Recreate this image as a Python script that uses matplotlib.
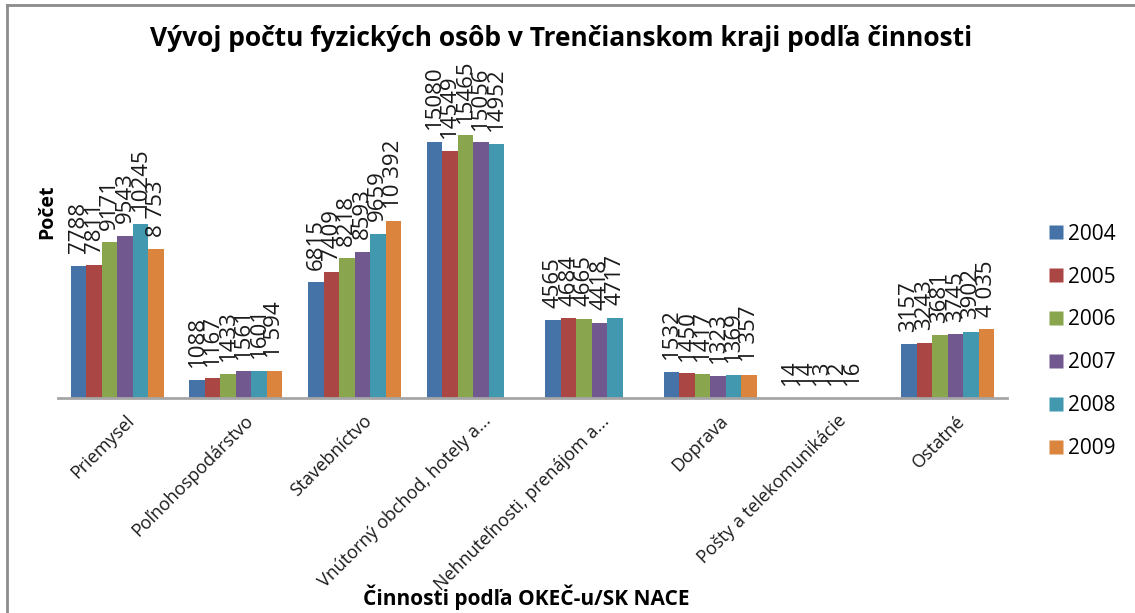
"""Vývoj počtu fyzických osôb v Trenčianskom kraji podľa činnosti - grouped bars."""

import matplotlib

matplotlib.use("Agg")
import matplotlib.pyplot as plt
import numpy as np
from matplotlib.lines import Line2D

CATEGORIES = [
    "Priemysel",
    "Poľnohospodárstvo",
    "Stavebníctvo",
    "Vnútorný obchod, hotely a...",
    "Nehnuteľnosti, prenájom a...",
    "Doprava",
    "Pošty a telekomunikácie",
    "Ostatné",
]
YEARS = ["2004", "2005", "2006", "2007", "2008", "2009"]

# None = no value for that year in the category
V2004 = [7788, 1088, 6815, 15080, 4565, 1532, 14, 3157]
V2005 = [7811, 1167, 7409, 14549, 4684, 1450, 14, 3243]
V2006 = [9171, 1433, 8218, 15465, 4665, 1417, 13, 3681]
V2007 = [9543, 1561, 8593, 15056, 4418, 1323, 12, 3745]
V2008 = [10245, 1601, 9659, 14952, 4717, 1369, 16, 3902]
V2009 = [8753, 1594, 10392, None, None, 1357, None, 4035]
SERIES = [V2004, V2005, V2006, V2007, V2008, V2009]
# 2009 labels in the source use a space as thousands separator
SPACED = [False, False, False, False, False, True]

COLORS = ["#4572A7", "#AA4643", "#89A54E", "#71588F", "#4198AF", "#DB843D"]

FONT = ["Open Sans", "DejaVu Sans"]
plt.rcParams["font.family"] = FONT


def _fmt(v, spaced):
    if spaced:
        return f"{v:,}".replace(",", " ")
    return str(v)


def main():
    fig = plt.figure(figsize=(11.35, 6.13), dpi=100)
    ax = fig.add_axes([0.0511, 0.3507, 0.8361, 0.4993])

    x = np.arange(len(CATEGORIES))
    n = len(YEARS)
    bar_w = 0.785 / n
    offsets = (np.arange(n) - (n - 1) / 2) * bar_w

    handles = []
    for i, (year, vals) in enumerate(zip(YEARS, SERIES)):
        xs = [x[j] + offsets[i] for j, v in enumerate(vals) if v is not None]
        ys = [v for v in vals if v is not None]
        ax.bar(xs, ys, width=bar_w, color=COLORS[i], edgecolor="none", zorder=2)
        for xx, yy in zip(xs, ys):
            ax.annotate(
                _fmt(yy, SPACED[i]),
                (xx, yy),
                xytext=(0, 9),
                textcoords="offset points",
                rotation=90,
                ha="center",
                va="bottom",
                fontsize=16,
                color="#1a1a1a",
            )
        handles.append(Line2D([], [], marker="s", linestyle="none", markersize=10,
                              markerfacecolor=COLORS[i], markeredgecolor="none"))

    ax.set_xlim(-0.5, len(CATEGORIES) - 0.5)
    ax.set_ylim(0, 18000)
    for side in ("top", "right", "left"):
        ax.spines[side].set_visible(False)
    ax.spines["bottom"].set_color("#A6A6A6")
    ax.spines["bottom"].set_linewidth(2)
    ax.set_yticks([])
    ax.set_xticks(x + 0.07)
    ax.set_xticklabels(CATEGORIES, rotation=45, ha="right", rotation_mode="anchor",
                       fontsize=13, color="#1a1a1a")
    ax.tick_params(axis="x", length=0, pad=10)

    ax.set_ylabel("Počet", fontsize=14, fontweight="bold")
    ax.yaxis.set_label_coords(-0.001, 0.61)
    fig.text(0.464, 0.025, "Činnosti podľa OKEČ-u/SK NACE", ha="center", va="center",
             fontsize=15, fontweight="bold")
    fig.text(0.494, 0.938, "Vývoj počtu fyzických osôb v Trenčianskom kraji podľa činnosti",
             ha="center", va="center", fontsize=19, fontweight="bold")

    fig.legend(handles, YEARS, loc="upper left", bbox_to_anchor=(0.912, 0.652),
               frameon=False, fontsize=15, handletextpad=0.1, labelspacing=1.05,
               handlelength=1.0, borderpad=0)

    # thin grey frame along the top and left of the image
    fig.add_artist(Line2D([7 / 1135, 1.0], [1 - 5 / 613, 1 - 5 / 613],
                          transform=fig.transFigure, color="#8C8C8C", linewidth=2))
    fig.add_artist(Line2D([7 / 1135, 7 / 1135], [0.0, 1 - 5 / 613],
                          transform=fig.transFigure, color="#8C8C8C", linewidth=2))

    fig.savefig("out.png", dpi=100, facecolor="white")
    plt.close(fig)


if __name__ == "__main__":
    main()
